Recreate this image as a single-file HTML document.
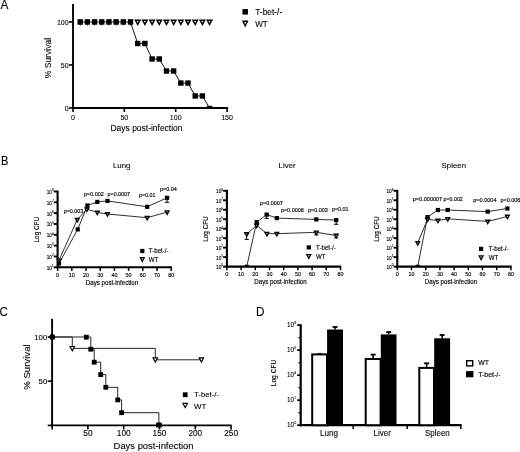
<!DOCTYPE html>
<html><head><meta charset="utf-8"><title>Figure</title>
<style>
html,body{margin:0;padding:0;background:#fff;}
body{width:520px;height:452px;overflow:hidden;}
svg{display:block;font-family:"Liberation Sans", sans-serif;}
</style></head>
<body>
<svg width="520" height="452" viewBox="0 0 520 452">
<rect width="520" height="452" fill="#fff"/>
<g filter="url(#soft)">
<text x="0.50" y="9.00" font-size="12.2" text-anchor="start" fill="#000" textLength="7.90" lengthAdjust="spacingAndGlyphs" stroke="#000" stroke-width="0.100" >A</text>
<text x="0.90" y="164.60" font-size="13.2" text-anchor="start" fill="#000" textLength="7.40" lengthAdjust="spacingAndGlyphs" stroke="#000" stroke-width="0.100" >B</text>
<text x="-0.60" y="316.00" font-size="12.2" text-anchor="start" fill="#000" textLength="8.30" lengthAdjust="spacingAndGlyphs" stroke="#000" stroke-width="0.100" >C</text>
<text x="255.90" y="316.00" font-size="13.2" text-anchor="start" fill="#000" textLength="8.50" lengthAdjust="spacingAndGlyphs" stroke="#000" stroke-width="0.100" >D</text>
<line x1="73.00" y1="4.00" x2="73.00" y2="108.95" stroke="#000" stroke-width="1.9" stroke-linecap="butt"/>
<line x1="72.05" y1="108.00" x2="228.20" y2="108.00" stroke="#000" stroke-width="1.9" stroke-linecap="butt"/>
<line x1="69.00" y1="108.00" x2="73.00" y2="108.00" stroke="#000" stroke-width="1.6" stroke-linecap="butt"/>
<line x1="69.00" y1="65.00" x2="73.00" y2="65.00" stroke="#000" stroke-width="1.6" stroke-linecap="butt"/>
<line x1="69.00" y1="22.00" x2="73.00" y2="22.00" stroke="#000" stroke-width="1.6" stroke-linecap="butt"/>
<line x1="73.00" y1="108.00" x2="73.00" y2="112.00" stroke="#000" stroke-width="1.6" stroke-linecap="butt"/>
<line x1="124.35" y1="108.00" x2="124.35" y2="112.00" stroke="#000" stroke-width="1.6" stroke-linecap="butt"/>
<line x1="175.70" y1="108.00" x2="175.70" y2="112.00" stroke="#000" stroke-width="1.6" stroke-linecap="butt"/>
<line x1="227.05" y1="108.00" x2="227.05" y2="112.00" stroke="#000" stroke-width="1.6" stroke-linecap="butt"/>
<text x="68.60" y="110.80" font-size="8" text-anchor="end" fill="#000" textLength="3.90" lengthAdjust="spacingAndGlyphs" stroke="#000" stroke-width="0.100" >0</text>
<text x="68.60" y="67.80" font-size="8" text-anchor="end" fill="#000" textLength="7.80" lengthAdjust="spacingAndGlyphs" stroke="#000" stroke-width="0.100" >50</text>
<text x="68.60" y="24.80" font-size="8" text-anchor="end" fill="#000" textLength="11.70" lengthAdjust="spacingAndGlyphs" stroke="#000" stroke-width="0.100" >100</text>
<text x="73.00" y="119.90" font-size="8" text-anchor="middle" fill="#000" textLength="3.90" lengthAdjust="spacingAndGlyphs" stroke="#000" stroke-width="0.100" >0</text>
<text x="124.35" y="119.90" font-size="8" text-anchor="middle" fill="#000" textLength="7.80" lengthAdjust="spacingAndGlyphs" stroke="#000" stroke-width="0.100" >50</text>
<text x="175.70" y="119.90" font-size="8" text-anchor="middle" fill="#000" textLength="11.70" lengthAdjust="spacingAndGlyphs" stroke="#000" stroke-width="0.100" >100</text>
<text x="227.05" y="119.90" font-size="8" text-anchor="middle" fill="#000" textLength="11.70" lengthAdjust="spacingAndGlyphs" stroke="#000" stroke-width="0.100" >150</text>
<text x="146.50" y="131.00" font-size="8.6" text-anchor="middle" fill="#000" textLength="72.00" lengthAdjust="spacingAndGlyphs" stroke="#000" stroke-width="0.100" >Days post-infection</text>
<text x="51.20" y="58.00" font-size="8.4" text-anchor="middle" fill="#000" textLength="40.50" lengthAdjust="spacingAndGlyphs" transform="rotate(-90 51.20 58.00)" stroke="#000" stroke-width="0.100" >% Survival</text>
<polyline points="80.19,22.00 87.38,22.00 94.57,22.00 101.76,22.00 108.94,22.00 116.13,22.00 123.32,22.00 130.51,22.00 137.70,43.50 144.89,43.50 152.08,58.98 159.27,58.98 166.46,71.02 173.65,71.02 180.83,83.06 188.02,83.06 195.21,95.96 202.40,95.96 209.59,108.00" fill="none" stroke="#1a1a1a" stroke-width="1.0" stroke-linejoin="round"/>
<polygon points="77.89,19.40 82.49,19.40 80.19,26.00" fill="#000"/>
<polygon points="80.00,20.90 80.38,20.90 80.19,21.44" fill="#fff"/>
<polygon points="85.08,19.40 89.68,19.40 87.38,26.00" fill="#000"/>
<polygon points="87.19,20.90 87.57,20.90 87.38,21.44" fill="#fff"/>
<polygon points="92.27,19.40 96.87,19.40 94.57,26.00" fill="#000"/>
<polygon points="94.38,20.90 94.76,20.90 94.57,21.44" fill="#fff"/>
<polygon points="99.46,19.40 104.06,19.40 101.76,26.00" fill="#000"/>
<polygon points="101.57,20.90 101.94,20.90 101.76,21.44" fill="#fff"/>
<polygon points="106.64,19.40 111.24,19.40 108.94,26.00" fill="#000"/>
<polygon points="108.76,20.90 109.13,20.90 108.94,21.44" fill="#fff"/>
<polygon points="113.83,19.40 118.43,19.40 116.13,26.00" fill="#000"/>
<polygon points="115.95,20.90 116.32,20.90 116.13,21.44" fill="#fff"/>
<polygon points="121.02,19.40 125.62,19.40 123.32,26.00" fill="#000"/>
<polygon points="123.13,20.90 123.51,20.90 123.32,21.44" fill="#fff"/>
<polygon points="128.21,19.40 132.81,19.40 130.51,26.00" fill="#000"/>
<polygon points="130.32,20.90 130.70,20.90 130.51,21.44" fill="#fff"/>
<polygon points="134.20,19.40 141.20,19.40 137.70,26.00" fill="#000"/>
<polygon points="136.69,20.90 138.71,20.90 137.70,22.80" fill="#fff"/>
<polygon points="141.39,19.40 148.39,19.40 144.89,26.00" fill="#000"/>
<polygon points="143.88,20.90 145.90,20.90 144.89,22.80" fill="#fff"/>
<polygon points="148.58,19.40 155.58,19.40 152.08,26.00" fill="#000"/>
<polygon points="151.07,20.90 153.09,20.90 152.08,22.80" fill="#fff"/>
<polygon points="155.77,19.40 162.77,19.40 159.27,26.00" fill="#000"/>
<polygon points="158.26,20.90 160.27,20.90 159.27,22.80" fill="#fff"/>
<polygon points="162.96,19.40 169.96,19.40 166.46,26.00" fill="#000"/>
<polygon points="165.45,20.90 167.46,20.90 166.46,22.80" fill="#fff"/>
<polygon points="170.15,19.40 177.15,19.40 173.65,26.00" fill="#000"/>
<polygon points="172.64,20.90 174.65,20.90 173.65,22.80" fill="#fff"/>
<polygon points="177.33,19.40 184.33,19.40 180.83,26.00" fill="#000"/>
<polygon points="179.83,20.90 181.84,20.90 180.83,22.80" fill="#fff"/>
<polygon points="184.52,19.40 191.52,19.40 188.02,26.00" fill="#000"/>
<polygon points="187.02,20.90 189.03,20.90 188.02,22.80" fill="#fff"/>
<polygon points="191.71,19.40 198.71,19.40 195.21,26.00" fill="#000"/>
<polygon points="194.21,20.90 196.22,20.90 195.21,22.80" fill="#fff"/>
<polygon points="198.90,19.40 205.90,19.40 202.40,26.00" fill="#000"/>
<polygon points="201.40,20.90 203.41,20.90 202.40,22.80" fill="#fff"/>
<polygon points="206.09,19.40 213.09,19.40 209.59,26.00" fill="#000"/>
<polygon points="208.58,20.90 210.60,20.90 209.59,22.80" fill="#fff"/>
<rect x="77.49" y="19.30" width="5.4" height="5.4" fill="#000"/>
<rect x="84.68" y="19.30" width="5.4" height="5.4" fill="#000"/>
<rect x="91.87" y="19.30" width="5.4" height="5.4" fill="#000"/>
<rect x="99.06" y="19.30" width="5.4" height="5.4" fill="#000"/>
<rect x="106.24" y="19.30" width="5.4" height="5.4" fill="#000"/>
<rect x="113.43" y="19.30" width="5.4" height="5.4" fill="#000"/>
<rect x="120.62" y="19.30" width="5.4" height="5.4" fill="#000"/>
<rect x="127.81" y="19.30" width="5.4" height="5.4" fill="#000"/>
<rect x="135.00" y="40.80" width="5.4" height="5.4" fill="#000"/>
<rect x="142.19" y="40.80" width="5.4" height="5.4" fill="#000"/>
<rect x="149.38" y="56.28" width="5.4" height="5.4" fill="#000"/>
<rect x="156.57" y="56.28" width="5.4" height="5.4" fill="#000"/>
<rect x="163.76" y="68.32" width="5.4" height="5.4" fill="#000"/>
<rect x="170.95" y="68.32" width="5.4" height="5.4" fill="#000"/>
<rect x="178.13" y="80.36" width="5.4" height="5.4" fill="#000"/>
<rect x="185.32" y="80.36" width="5.4" height="5.4" fill="#000"/>
<rect x="192.51" y="93.26" width="5.4" height="5.4" fill="#000"/>
<rect x="199.70" y="93.26" width="5.4" height="5.4" fill="#000"/>
<rect x="206.89" y="105.80" width="5.4" height="3" fill="#000"/>
<rect x="242.45" y="9.05" width="5.5" height="5.5" fill="#000"/>
<text x="255.20" y="14.60" font-size="8.2" text-anchor="start" fill="#000" textLength="27.00" lengthAdjust="spacingAndGlyphs" stroke="#000" stroke-width="0.100" >T-bet-/-</text>
<polygon points="241.90,20.50 248.50,20.50 245.20,27.60" fill="#000"/>
<polygon points="244.17,21.95 246.23,21.95 245.20,24.16" fill="#fff"/>
<text x="255.20" y="26.70" font-size="8.2" text-anchor="start" fill="#000" textLength="12.60" lengthAdjust="spacingAndGlyphs" stroke="#000" stroke-width="0.100" >WT</text>
<line x1="57.60" y1="190.60" x2="57.60" y2="268.35" stroke="#000" stroke-width="2.1" stroke-linecap="butt"/>
<line x1="56.55" y1="267.30" x2="172.00" y2="267.30" stroke="#000" stroke-width="2.1" stroke-linecap="butt"/>
<line x1="53.80" y1="191.50" x2="57.60" y2="191.50" stroke="#000" stroke-width="1.9" stroke-linecap="butt"/>
<text x="52.00" y="194.00" font-size="5.8" text-anchor="end" fill="#000" stroke="#000" stroke-width="0.15" textLength="5.3" lengthAdjust="spacingAndGlyphs">10</text>
<text x="52.00" y="191.30" font-size="3.0" text-anchor="start" fill="#000" stroke="#000" stroke-width="0.1">8</text>
<line x1="53.80" y1="202.33" x2="57.60" y2="202.33" stroke="#000" stroke-width="1.9" stroke-linecap="butt"/>
<text x="52.00" y="204.83" font-size="5.8" text-anchor="end" fill="#000" stroke="#000" stroke-width="0.15" textLength="5.3" lengthAdjust="spacingAndGlyphs">10</text>
<text x="52.00" y="202.13" font-size="3.0" text-anchor="start" fill="#000" stroke="#000" stroke-width="0.1">7</text>
<line x1="53.80" y1="213.16" x2="57.60" y2="213.16" stroke="#000" stroke-width="1.9" stroke-linecap="butt"/>
<text x="52.00" y="215.66" font-size="5.8" text-anchor="end" fill="#000" stroke="#000" stroke-width="0.15" textLength="5.3" lengthAdjust="spacingAndGlyphs">10</text>
<text x="52.00" y="212.96" font-size="3.0" text-anchor="start" fill="#000" stroke="#000" stroke-width="0.1">6</text>
<line x1="53.80" y1="223.99" x2="57.60" y2="223.99" stroke="#000" stroke-width="1.9" stroke-linecap="butt"/>
<text x="52.00" y="226.49" font-size="5.8" text-anchor="end" fill="#000" stroke="#000" stroke-width="0.15" textLength="5.3" lengthAdjust="spacingAndGlyphs">10</text>
<text x="52.00" y="223.79" font-size="3.0" text-anchor="start" fill="#000" stroke="#000" stroke-width="0.1">5</text>
<line x1="53.80" y1="234.81" x2="57.60" y2="234.81" stroke="#000" stroke-width="1.9" stroke-linecap="butt"/>
<text x="52.00" y="237.31" font-size="5.8" text-anchor="end" fill="#000" stroke="#000" stroke-width="0.15" textLength="5.3" lengthAdjust="spacingAndGlyphs">10</text>
<text x="52.00" y="234.61" font-size="3.0" text-anchor="start" fill="#000" stroke="#000" stroke-width="0.1">4</text>
<line x1="53.80" y1="245.64" x2="57.60" y2="245.64" stroke="#000" stroke-width="1.9" stroke-linecap="butt"/>
<text x="52.00" y="248.14" font-size="5.8" text-anchor="end" fill="#000" stroke="#000" stroke-width="0.15" textLength="5.3" lengthAdjust="spacingAndGlyphs">10</text>
<text x="52.00" y="245.44" font-size="3.0" text-anchor="start" fill="#000" stroke="#000" stroke-width="0.1">3</text>
<line x1="53.80" y1="256.47" x2="57.60" y2="256.47" stroke="#000" stroke-width="1.9" stroke-linecap="butt"/>
<text x="52.00" y="258.97" font-size="5.8" text-anchor="end" fill="#000" stroke="#000" stroke-width="0.15" textLength="5.3" lengthAdjust="spacingAndGlyphs">10</text>
<text x="52.00" y="256.27" font-size="3.0" text-anchor="start" fill="#000" stroke="#000" stroke-width="0.1">2</text>
<line x1="53.80" y1="267.30" x2="57.60" y2="267.30" stroke="#000" stroke-width="1.9" stroke-linecap="butt"/>
<text x="52.00" y="269.80" font-size="5.8" text-anchor="end" fill="#000" stroke="#000" stroke-width="0.15" textLength="5.3" lengthAdjust="spacingAndGlyphs">10</text>
<text x="52.00" y="267.10" font-size="3.0" text-anchor="start" fill="#000" stroke="#000" stroke-width="0.1">1</text>
<line x1="57.60" y1="267.30" x2="57.60" y2="270.90" stroke="#000" stroke-width="1.5" stroke-linecap="butt"/>
<text x="57.60" y="276.80" font-size="6.2" text-anchor="middle" fill="#000" textLength="3.10" lengthAdjust="spacingAndGlyphs" stroke="#000" stroke-width="0.150" >0</text>
<line x1="71.80" y1="267.30" x2="71.80" y2="270.90" stroke="#000" stroke-width="1.5" stroke-linecap="butt"/>
<text x="71.80" y="276.80" font-size="6.2" text-anchor="middle" fill="#000" textLength="6.00" lengthAdjust="spacingAndGlyphs" stroke="#000" stroke-width="0.150" >10</text>
<line x1="86.00" y1="267.30" x2="86.00" y2="270.90" stroke="#000" stroke-width="1.5" stroke-linecap="butt"/>
<text x="86.00" y="276.80" font-size="6.2" text-anchor="middle" fill="#000" textLength="6.00" lengthAdjust="spacingAndGlyphs" stroke="#000" stroke-width="0.150" >20</text>
<line x1="100.20" y1="267.30" x2="100.20" y2="270.90" stroke="#000" stroke-width="1.5" stroke-linecap="butt"/>
<text x="100.20" y="276.80" font-size="6.2" text-anchor="middle" fill="#000" textLength="6.00" lengthAdjust="spacingAndGlyphs" stroke="#000" stroke-width="0.150" >30</text>
<line x1="114.40" y1="267.30" x2="114.40" y2="270.90" stroke="#000" stroke-width="1.5" stroke-linecap="butt"/>
<text x="114.40" y="276.80" font-size="6.2" text-anchor="middle" fill="#000" textLength="6.00" lengthAdjust="spacingAndGlyphs" stroke="#000" stroke-width="0.150" >40</text>
<line x1="128.60" y1="267.30" x2="128.60" y2="270.90" stroke="#000" stroke-width="1.5" stroke-linecap="butt"/>
<text x="128.60" y="276.80" font-size="6.2" text-anchor="middle" fill="#000" textLength="6.00" lengthAdjust="spacingAndGlyphs" stroke="#000" stroke-width="0.150" >50</text>
<line x1="142.80" y1="267.30" x2="142.80" y2="270.90" stroke="#000" stroke-width="1.5" stroke-linecap="butt"/>
<text x="142.80" y="276.80" font-size="6.2" text-anchor="middle" fill="#000" textLength="6.00" lengthAdjust="spacingAndGlyphs" stroke="#000" stroke-width="0.150" >60</text>
<line x1="157.00" y1="267.30" x2="157.00" y2="270.90" stroke="#000" stroke-width="1.5" stroke-linecap="butt"/>
<text x="157.00" y="276.80" font-size="6.2" text-anchor="middle" fill="#000" textLength="6.00" lengthAdjust="spacingAndGlyphs" stroke="#000" stroke-width="0.150" >70</text>
<line x1="171.20" y1="267.30" x2="171.20" y2="270.90" stroke="#000" stroke-width="1.5" stroke-linecap="butt"/>
<text x="171.20" y="276.80" font-size="6.2" text-anchor="middle" fill="#000" textLength="6.00" lengthAdjust="spacingAndGlyphs" stroke="#000" stroke-width="0.150" >80</text>
<text x="112.00" y="284.60" font-size="6.4" text-anchor="middle" fill="#000" textLength="52.40" lengthAdjust="spacingAndGlyphs" stroke="#000" stroke-width="0.150" >Days post-infection</text>
<text x="39.40" y="229.70" font-size="6.8" text-anchor="middle" fill="#000" textLength="25.40" lengthAdjust="spacingAndGlyphs" transform="rotate(-90 39.40 229.70)" stroke="#000" stroke-width="0.150" >Log CFU</text>
<text x="112.90" y="167.90" font-size="7.9" text-anchor="start" fill="#000" stroke="#000" stroke-width="0.100" >Lung</text>
<polyline points="59.00,263.50 77.70,229.40 87.40,205.50 97.30,201.90 107.50,200.90 147.20,206.80 167.10,197.80" fill="none" stroke="#1a1a1a" stroke-width="0.9" stroke-linejoin="round"/>
<polyline points="59.00,260.30 77.20,219.70 86.90,209.20 97.30,212.40 107.50,214.00 147.20,217.70 167.10,212.10" fill="none" stroke="#1a1a1a" stroke-width="0.9" stroke-linejoin="round"/>
<line x1="167.00" y1="197.80" x2="167.00" y2="202.30" stroke="#000" stroke-width="1.0" stroke-linecap="butt"/>
<line x1="164.90" y1="197.80" x2="169.10" y2="197.80" stroke="#000" stroke-width="1.0" stroke-linecap="butt"/>
<line x1="164.90" y1="202.30" x2="169.10" y2="202.30" stroke="#000" stroke-width="1.0" stroke-linecap="butt"/>
<polygon points="56.00,258.40 62.00,258.40 59.00,263.90" fill="#000"/>
<polygon points="58.36,259.80 59.64,259.80 59.00,260.98" fill="#fff"/>
<polygon points="74.20,217.80 80.20,217.80 77.20,223.30" fill="#000"/>
<polygon points="76.56,219.20 77.84,219.20 77.20,220.38" fill="#fff"/>
<polygon points="83.90,207.30 89.90,207.30 86.90,212.80" fill="#000"/>
<polygon points="86.26,208.70 87.54,208.70 86.90,209.88" fill="#fff"/>
<polygon points="94.30,210.50 100.30,210.50 97.30,216.00" fill="#000"/>
<polygon points="96.66,211.90 97.94,211.90 97.30,213.08" fill="#fff"/>
<polygon points="104.50,212.10 110.50,212.10 107.50,217.60" fill="#000"/>
<polygon points="106.86,213.50 108.14,213.50 107.50,214.68" fill="#fff"/>
<polygon points="144.20,215.80 150.20,215.80 147.20,221.30" fill="#000"/>
<polygon points="146.56,217.20 147.84,217.20 147.20,218.38" fill="#fff"/>
<polygon points="164.10,210.20 170.10,210.20 167.10,215.70" fill="#000"/>
<polygon points="166.46,211.60 167.74,211.60 167.10,212.78" fill="#fff"/>
<rect x="56.90" y="261.40" width="4.2" height="4.2" fill="#000"/>
<rect x="75.60" y="227.30" width="4.2" height="4.2" fill="#000"/>
<rect x="85.30" y="203.40" width="4.2" height="4.2" fill="#000"/>
<rect x="95.20" y="199.80" width="4.2" height="4.2" fill="#000"/>
<rect x="105.40" y="198.80" width="4.2" height="4.2" fill="#000"/>
<rect x="145.10" y="204.70" width="4.2" height="4.2" fill="#000"/>
<rect x="165.00" y="195.70" width="4.2" height="4.2" fill="#000"/>
<text x="63.70" y="213.00" font-size="5.7" text-anchor="start" fill="#000" textLength="19.60" lengthAdjust="spacingAndGlyphs" stroke="#000" stroke-width="0.150" >p=0.003</text>
<text x="83.70" y="195.80" font-size="5.7" text-anchor="start" fill="#000" textLength="20.20" lengthAdjust="spacingAndGlyphs" stroke="#000" stroke-width="0.150" >p=0.002</text>
<text x="107.50" y="195.80" font-size="5.7" text-anchor="start" fill="#000" textLength="22.60" lengthAdjust="spacingAndGlyphs" stroke="#000" stroke-width="0.150" >p=0.0007</text>
<text x="139.10" y="197.20" font-size="5.7" text-anchor="start" fill="#000" textLength="16.40" lengthAdjust="spacingAndGlyphs" stroke="#000" stroke-width="0.150" >p=0.01</text>
<text x="160.00" y="191.00" font-size="5.7" text-anchor="start" fill="#000" textLength="16.70" lengthAdjust="spacingAndGlyphs" stroke="#000" stroke-width="0.150" >p=0.04</text>
<rect x="140.20" y="248.90" width="4.2" height="4.2" fill="#000"/>
<text x="148.80" y="253.30" font-size="6.3" text-anchor="start" fill="#000" textLength="19.80" lengthAdjust="spacingAndGlyphs" stroke="#000" stroke-width="0.150" >T-bet-/-</text>
<polygon points="139.30,257.00 145.30,257.00 142.30,262.80" fill="#000"/>
<polygon points="141.44,258.30 143.16,258.30 142.30,259.97" fill="#fff"/>
<text x="148.80" y="261.90" font-size="6.3" text-anchor="start" fill="#000" textLength="9.50" lengthAdjust="spacingAndGlyphs" stroke="#000" stroke-width="0.150" >WT</text>
<line x1="226.90" y1="189.90" x2="226.90" y2="267.65" stroke="#000" stroke-width="2.1" stroke-linecap="butt"/>
<line x1="225.85" y1="266.60" x2="341.30" y2="266.60" stroke="#000" stroke-width="2.1" stroke-linecap="butt"/>
<line x1="223.10" y1="190.80" x2="226.90" y2="190.80" stroke="#000" stroke-width="1.9" stroke-linecap="butt"/>
<text x="221.30" y="193.30" font-size="5.8" text-anchor="end" fill="#000" stroke="#000" stroke-width="0.15" textLength="5.3" lengthAdjust="spacingAndGlyphs">10</text>
<text x="221.30" y="190.60" font-size="3.0" text-anchor="start" fill="#000" stroke="#000" stroke-width="0.1">8</text>
<line x1="223.10" y1="200.28" x2="226.90" y2="200.28" stroke="#000" stroke-width="1.9" stroke-linecap="butt"/>
<text x="221.30" y="202.78" font-size="5.8" text-anchor="end" fill="#000" stroke="#000" stroke-width="0.15" textLength="5.3" lengthAdjust="spacingAndGlyphs">10</text>
<text x="221.30" y="200.08" font-size="3.0" text-anchor="start" fill="#000" stroke="#000" stroke-width="0.1">7</text>
<line x1="223.10" y1="209.75" x2="226.90" y2="209.75" stroke="#000" stroke-width="1.9" stroke-linecap="butt"/>
<text x="221.30" y="212.25" font-size="5.8" text-anchor="end" fill="#000" stroke="#000" stroke-width="0.15" textLength="5.3" lengthAdjust="spacingAndGlyphs">10</text>
<text x="221.30" y="209.55" font-size="3.0" text-anchor="start" fill="#000" stroke="#000" stroke-width="0.1">6</text>
<line x1="223.10" y1="219.23" x2="226.90" y2="219.23" stroke="#000" stroke-width="1.9" stroke-linecap="butt"/>
<text x="221.30" y="221.73" font-size="5.8" text-anchor="end" fill="#000" stroke="#000" stroke-width="0.15" textLength="5.3" lengthAdjust="spacingAndGlyphs">10</text>
<text x="221.30" y="219.03" font-size="3.0" text-anchor="start" fill="#000" stroke="#000" stroke-width="0.1">5</text>
<line x1="223.10" y1="228.70" x2="226.90" y2="228.70" stroke="#000" stroke-width="1.9" stroke-linecap="butt"/>
<text x="221.30" y="231.20" font-size="5.8" text-anchor="end" fill="#000" stroke="#000" stroke-width="0.15" textLength="5.3" lengthAdjust="spacingAndGlyphs">10</text>
<text x="221.30" y="228.50" font-size="3.0" text-anchor="start" fill="#000" stroke="#000" stroke-width="0.1">4</text>
<line x1="223.10" y1="238.18" x2="226.90" y2="238.18" stroke="#000" stroke-width="1.9" stroke-linecap="butt"/>
<text x="221.30" y="240.68" font-size="5.8" text-anchor="end" fill="#000" stroke="#000" stroke-width="0.15" textLength="5.3" lengthAdjust="spacingAndGlyphs">10</text>
<text x="221.30" y="237.98" font-size="3.0" text-anchor="start" fill="#000" stroke="#000" stroke-width="0.1">3</text>
<line x1="223.10" y1="247.65" x2="226.90" y2="247.65" stroke="#000" stroke-width="1.9" stroke-linecap="butt"/>
<text x="221.30" y="250.15" font-size="5.8" text-anchor="end" fill="#000" stroke="#000" stroke-width="0.15" textLength="5.3" lengthAdjust="spacingAndGlyphs">10</text>
<text x="221.30" y="247.45" font-size="3.0" text-anchor="start" fill="#000" stroke="#000" stroke-width="0.1">2</text>
<line x1="223.10" y1="257.12" x2="226.90" y2="257.12" stroke="#000" stroke-width="1.9" stroke-linecap="butt"/>
<text x="221.30" y="259.62" font-size="5.8" text-anchor="end" fill="#000" stroke="#000" stroke-width="0.15" textLength="5.3" lengthAdjust="spacingAndGlyphs">10</text>
<text x="221.30" y="256.93" font-size="3.0" text-anchor="start" fill="#000" stroke="#000" stroke-width="0.1">1</text>
<line x1="223.10" y1="266.60" x2="226.90" y2="266.60" stroke="#000" stroke-width="1.9" stroke-linecap="butt"/>
<text x="221.30" y="269.10" font-size="5.8" text-anchor="end" fill="#000" stroke="#000" stroke-width="0.15" textLength="5.3" lengthAdjust="spacingAndGlyphs">10</text>
<text x="221.30" y="266.40" font-size="3.0" text-anchor="start" fill="#000" stroke="#000" stroke-width="0.1">0</text>
<line x1="226.90" y1="266.60" x2="226.90" y2="270.20" stroke="#000" stroke-width="1.5" stroke-linecap="butt"/>
<text x="226.90" y="275.70" font-size="6.2" text-anchor="middle" fill="#000" textLength="3.10" lengthAdjust="spacingAndGlyphs" stroke="#000" stroke-width="0.150" >0</text>
<line x1="241.10" y1="266.60" x2="241.10" y2="270.20" stroke="#000" stroke-width="1.5" stroke-linecap="butt"/>
<text x="241.10" y="275.70" font-size="6.2" text-anchor="middle" fill="#000" textLength="6.00" lengthAdjust="spacingAndGlyphs" stroke="#000" stroke-width="0.150" >10</text>
<line x1="255.30" y1="266.60" x2="255.30" y2="270.20" stroke="#000" stroke-width="1.5" stroke-linecap="butt"/>
<text x="255.30" y="275.70" font-size="6.2" text-anchor="middle" fill="#000" textLength="6.00" lengthAdjust="spacingAndGlyphs" stroke="#000" stroke-width="0.150" >20</text>
<line x1="269.50" y1="266.60" x2="269.50" y2="270.20" stroke="#000" stroke-width="1.5" stroke-linecap="butt"/>
<text x="269.50" y="275.70" font-size="6.2" text-anchor="middle" fill="#000" textLength="6.00" lengthAdjust="spacingAndGlyphs" stroke="#000" stroke-width="0.150" >30</text>
<line x1="283.70" y1="266.60" x2="283.70" y2="270.20" stroke="#000" stroke-width="1.5" stroke-linecap="butt"/>
<text x="283.70" y="275.70" font-size="6.2" text-anchor="middle" fill="#000" textLength="6.00" lengthAdjust="spacingAndGlyphs" stroke="#000" stroke-width="0.150" >40</text>
<line x1="297.90" y1="266.60" x2="297.90" y2="270.20" stroke="#000" stroke-width="1.5" stroke-linecap="butt"/>
<text x="297.90" y="275.70" font-size="6.2" text-anchor="middle" fill="#000" textLength="6.00" lengthAdjust="spacingAndGlyphs" stroke="#000" stroke-width="0.150" >50</text>
<line x1="312.10" y1="266.60" x2="312.10" y2="270.20" stroke="#000" stroke-width="1.5" stroke-linecap="butt"/>
<text x="312.10" y="275.70" font-size="6.2" text-anchor="middle" fill="#000" textLength="6.00" lengthAdjust="spacingAndGlyphs" stroke="#000" stroke-width="0.150" >60</text>
<line x1="326.30" y1="266.60" x2="326.30" y2="270.20" stroke="#000" stroke-width="1.5" stroke-linecap="butt"/>
<text x="326.30" y="275.70" font-size="6.2" text-anchor="middle" fill="#000" textLength="6.00" lengthAdjust="spacingAndGlyphs" stroke="#000" stroke-width="0.150" >70</text>
<line x1="340.50" y1="266.60" x2="340.50" y2="270.20" stroke="#000" stroke-width="1.5" stroke-linecap="butt"/>
<text x="340.50" y="275.70" font-size="6.2" text-anchor="middle" fill="#000" textLength="6.00" lengthAdjust="spacingAndGlyphs" stroke="#000" stroke-width="0.150" >80</text>
<text x="280.50" y="283.60" font-size="6.4" text-anchor="middle" fill="#000" textLength="52.40" lengthAdjust="spacingAndGlyphs" stroke="#000" stroke-width="0.150" >Days post-infection</text>
<text x="208.00" y="229.00" font-size="6.8" text-anchor="middle" fill="#000" textLength="25.40" lengthAdjust="spacingAndGlyphs" transform="rotate(-90 208.00 229.00)" stroke="#000" stroke-width="0.150" >Log CFU</text>
<text x="278.60" y="167.90" font-size="7.9" text-anchor="start" fill="#000" stroke="#000" stroke-width="0.100" >Liver</text>
<polyline points="246.70,266.60 256.70,222.10 266.70,214.60 276.80,218.10 316.30,219.40 336.20,220.10" fill="none" stroke="#1a1a1a" stroke-width="0.9" stroke-linejoin="round"/>
<polyline points="246.70,234.00 256.70,225.40 266.90,233.60 276.80,233.70 316.30,232.30 336.20,235.50" fill="none" stroke="#1a1a1a" stroke-width="0.9" stroke-linejoin="round"/>
<line x1="266.70" y1="214.60" x2="266.70" y2="218.40" stroke="#000" stroke-width="1.0" stroke-linecap="butt"/>
<line x1="264.60" y1="214.60" x2="268.80" y2="214.60" stroke="#000" stroke-width="1.0" stroke-linecap="butt"/>
<line x1="264.60" y1="218.40" x2="268.80" y2="218.40" stroke="#000" stroke-width="1.0" stroke-linecap="butt"/>
<line x1="336.20" y1="220.10" x2="336.20" y2="224.30" stroke="#000" stroke-width="1.0" stroke-linecap="butt"/>
<line x1="334.10" y1="220.10" x2="338.30" y2="220.10" stroke="#000" stroke-width="1.0" stroke-linecap="butt"/>
<line x1="334.10" y1="224.30" x2="338.30" y2="224.30" stroke="#000" stroke-width="1.0" stroke-linecap="butt"/>
<line x1="246.70" y1="234.00" x2="246.70" y2="239.40" stroke="#000" stroke-width="1.0" stroke-linecap="butt"/>
<line x1="244.60" y1="234.00" x2="248.80" y2="234.00" stroke="#000" stroke-width="1.0" stroke-linecap="butt"/>
<line x1="244.60" y1="239.40" x2="248.80" y2="239.40" stroke="#000" stroke-width="1.0" stroke-linecap="butt"/>
<line x1="316.30" y1="232.30" x2="316.30" y2="234.90" stroke="#000" stroke-width="1.0" stroke-linecap="butt"/>
<line x1="314.20" y1="232.30" x2="318.40" y2="232.30" stroke="#000" stroke-width="1.0" stroke-linecap="butt"/>
<line x1="314.20" y1="234.90" x2="318.40" y2="234.90" stroke="#000" stroke-width="1.0" stroke-linecap="butt"/>
<line x1="336.20" y1="235.50" x2="336.20" y2="237.90" stroke="#000" stroke-width="1.0" stroke-linecap="butt"/>
<line x1="334.10" y1="235.50" x2="338.30" y2="235.50" stroke="#000" stroke-width="1.0" stroke-linecap="butt"/>
<line x1="334.10" y1="237.90" x2="338.30" y2="237.90" stroke="#000" stroke-width="1.0" stroke-linecap="butt"/>
<polygon points="243.70,232.10 249.70,232.10 246.70,237.60" fill="#000"/>
<polygon points="246.06,233.50 247.34,233.50 246.70,234.68" fill="#fff"/>
<polygon points="253.70,223.50 259.70,223.50 256.70,229.00" fill="#000"/>
<polygon points="256.06,224.90 257.34,224.90 256.70,226.08" fill="#fff"/>
<polygon points="263.90,231.70 269.90,231.70 266.90,237.20" fill="#000"/>
<polygon points="266.26,233.10 267.54,233.10 266.90,234.28" fill="#fff"/>
<polygon points="273.80,231.80 279.80,231.80 276.80,237.30" fill="#000"/>
<polygon points="276.16,233.20 277.44,233.20 276.80,234.38" fill="#fff"/>
<polygon points="313.30,230.40 319.30,230.40 316.30,235.90" fill="#000"/>
<polygon points="315.66,231.80 316.94,231.80 316.30,232.98" fill="#fff"/>
<polygon points="333.20,233.60 339.20,233.60 336.20,239.10" fill="#000"/>
<polygon points="335.56,235.00 336.84,235.00 336.20,236.18" fill="#fff"/>
<rect x="244.70" y="264.70" width="4.0" height="1.5" fill="#000"/>
<rect x="254.60" y="220.00" width="4.2" height="4.2" fill="#000"/>
<rect x="264.60" y="212.50" width="4.2" height="4.2" fill="#000"/>
<rect x="274.70" y="216.00" width="4.2" height="4.2" fill="#000"/>
<rect x="314.20" y="217.30" width="4.2" height="4.2" fill="#000"/>
<rect x="334.10" y="218.00" width="4.2" height="4.2" fill="#000"/>
<text x="260.10" y="204.80" font-size="5.7" text-anchor="start" fill="#000" textLength="22.60" lengthAdjust="spacingAndGlyphs" stroke="#000" stroke-width="0.150" >p=0.0007</text>
<text x="280.90" y="211.70" font-size="5.7" text-anchor="start" fill="#000" textLength="22.90" lengthAdjust="spacingAndGlyphs" stroke="#000" stroke-width="0.150" >p=0.0008</text>
<text x="308.00" y="211.70" font-size="5.7" text-anchor="start" fill="#000" textLength="19.80" lengthAdjust="spacingAndGlyphs" stroke="#000" stroke-width="0.150" >p=0.003</text>
<text x="331.90" y="211.00" font-size="5.7" text-anchor="start" fill="#000" textLength="16.60" lengthAdjust="spacingAndGlyphs" stroke="#000" stroke-width="0.150" >p=0.01</text>
<rect x="306.70" y="245.30" width="4.2" height="4.2" fill="#000"/>
<text x="316.00" y="249.70" font-size="6.3" text-anchor="start" fill="#000" textLength="19.80" lengthAdjust="spacingAndGlyphs" stroke="#000" stroke-width="0.150" >T-bet-/-</text>
<polygon points="305.80,254.00 311.80,254.00 308.80,259.80" fill="#000"/>
<polygon points="307.94,255.30 309.66,255.30 308.80,256.97" fill="#fff"/>
<text x="316.00" y="258.90" font-size="6.3" text-anchor="start" fill="#000" textLength="9.50" lengthAdjust="spacingAndGlyphs" stroke="#000" stroke-width="0.150" >WT</text>
<line x1="397.30" y1="189.90" x2="397.30" y2="267.65" stroke="#000" stroke-width="2.1" stroke-linecap="butt"/>
<line x1="396.25" y1="266.60" x2="511.70" y2="266.60" stroke="#000" stroke-width="2.1" stroke-linecap="butt"/>
<line x1="393.50" y1="190.80" x2="397.30" y2="190.80" stroke="#000" stroke-width="1.9" stroke-linecap="butt"/>
<text x="391.70" y="193.30" font-size="5.8" text-anchor="end" fill="#000" stroke="#000" stroke-width="0.15" textLength="5.3" lengthAdjust="spacingAndGlyphs">10</text>
<text x="391.70" y="190.60" font-size="3.0" text-anchor="start" fill="#000" stroke="#000" stroke-width="0.1">8</text>
<line x1="393.50" y1="200.28" x2="397.30" y2="200.28" stroke="#000" stroke-width="1.9" stroke-linecap="butt"/>
<text x="391.70" y="202.78" font-size="5.8" text-anchor="end" fill="#000" stroke="#000" stroke-width="0.15" textLength="5.3" lengthAdjust="spacingAndGlyphs">10</text>
<text x="391.70" y="200.08" font-size="3.0" text-anchor="start" fill="#000" stroke="#000" stroke-width="0.1">7</text>
<line x1="393.50" y1="209.75" x2="397.30" y2="209.75" stroke="#000" stroke-width="1.9" stroke-linecap="butt"/>
<text x="391.70" y="212.25" font-size="5.8" text-anchor="end" fill="#000" stroke="#000" stroke-width="0.15" textLength="5.3" lengthAdjust="spacingAndGlyphs">10</text>
<text x="391.70" y="209.55" font-size="3.0" text-anchor="start" fill="#000" stroke="#000" stroke-width="0.1">6</text>
<line x1="393.50" y1="219.23" x2="397.30" y2="219.23" stroke="#000" stroke-width="1.9" stroke-linecap="butt"/>
<text x="391.70" y="221.73" font-size="5.8" text-anchor="end" fill="#000" stroke="#000" stroke-width="0.15" textLength="5.3" lengthAdjust="spacingAndGlyphs">10</text>
<text x="391.70" y="219.03" font-size="3.0" text-anchor="start" fill="#000" stroke="#000" stroke-width="0.1">5</text>
<line x1="393.50" y1="228.70" x2="397.30" y2="228.70" stroke="#000" stroke-width="1.9" stroke-linecap="butt"/>
<text x="391.70" y="231.20" font-size="5.8" text-anchor="end" fill="#000" stroke="#000" stroke-width="0.15" textLength="5.3" lengthAdjust="spacingAndGlyphs">10</text>
<text x="391.70" y="228.50" font-size="3.0" text-anchor="start" fill="#000" stroke="#000" stroke-width="0.1">4</text>
<line x1="393.50" y1="238.18" x2="397.30" y2="238.18" stroke="#000" stroke-width="1.9" stroke-linecap="butt"/>
<text x="391.70" y="240.68" font-size="5.8" text-anchor="end" fill="#000" stroke="#000" stroke-width="0.15" textLength="5.3" lengthAdjust="spacingAndGlyphs">10</text>
<text x="391.70" y="237.98" font-size="3.0" text-anchor="start" fill="#000" stroke="#000" stroke-width="0.1">3</text>
<line x1="393.50" y1="247.65" x2="397.30" y2="247.65" stroke="#000" stroke-width="1.9" stroke-linecap="butt"/>
<text x="391.70" y="250.15" font-size="5.8" text-anchor="end" fill="#000" stroke="#000" stroke-width="0.15" textLength="5.3" lengthAdjust="spacingAndGlyphs">10</text>
<text x="391.70" y="247.45" font-size="3.0" text-anchor="start" fill="#000" stroke="#000" stroke-width="0.1">2</text>
<line x1="393.50" y1="257.12" x2="397.30" y2="257.12" stroke="#000" stroke-width="1.9" stroke-linecap="butt"/>
<text x="391.70" y="259.62" font-size="5.8" text-anchor="end" fill="#000" stroke="#000" stroke-width="0.15" textLength="5.3" lengthAdjust="spacingAndGlyphs">10</text>
<text x="391.70" y="256.93" font-size="3.0" text-anchor="start" fill="#000" stroke="#000" stroke-width="0.1">1</text>
<line x1="393.50" y1="266.60" x2="397.30" y2="266.60" stroke="#000" stroke-width="1.9" stroke-linecap="butt"/>
<text x="391.70" y="269.10" font-size="5.8" text-anchor="end" fill="#000" stroke="#000" stroke-width="0.15" textLength="5.3" lengthAdjust="spacingAndGlyphs">10</text>
<text x="391.70" y="266.40" font-size="3.0" text-anchor="start" fill="#000" stroke="#000" stroke-width="0.1">0</text>
<line x1="397.30" y1="266.60" x2="397.30" y2="270.20" stroke="#000" stroke-width="1.5" stroke-linecap="butt"/>
<text x="397.30" y="275.70" font-size="6.2" text-anchor="middle" fill="#000" textLength="3.10" lengthAdjust="spacingAndGlyphs" stroke="#000" stroke-width="0.150" >0</text>
<line x1="411.50" y1="266.60" x2="411.50" y2="270.20" stroke="#000" stroke-width="1.5" stroke-linecap="butt"/>
<text x="411.50" y="275.70" font-size="6.2" text-anchor="middle" fill="#000" textLength="6.00" lengthAdjust="spacingAndGlyphs" stroke="#000" stroke-width="0.150" >10</text>
<line x1="425.70" y1="266.60" x2="425.70" y2="270.20" stroke="#000" stroke-width="1.5" stroke-linecap="butt"/>
<text x="425.70" y="275.70" font-size="6.2" text-anchor="middle" fill="#000" textLength="6.00" lengthAdjust="spacingAndGlyphs" stroke="#000" stroke-width="0.150" >20</text>
<line x1="439.90" y1="266.60" x2="439.90" y2="270.20" stroke="#000" stroke-width="1.5" stroke-linecap="butt"/>
<text x="439.90" y="275.70" font-size="6.2" text-anchor="middle" fill="#000" textLength="6.00" lengthAdjust="spacingAndGlyphs" stroke="#000" stroke-width="0.150" >30</text>
<line x1="454.10" y1="266.60" x2="454.10" y2="270.20" stroke="#000" stroke-width="1.5" stroke-linecap="butt"/>
<text x="454.10" y="275.70" font-size="6.2" text-anchor="middle" fill="#000" textLength="6.00" lengthAdjust="spacingAndGlyphs" stroke="#000" stroke-width="0.150" >40</text>
<line x1="468.30" y1="266.60" x2="468.30" y2="270.20" stroke="#000" stroke-width="1.5" stroke-linecap="butt"/>
<text x="468.30" y="275.70" font-size="6.2" text-anchor="middle" fill="#000" textLength="6.00" lengthAdjust="spacingAndGlyphs" stroke="#000" stroke-width="0.150" >50</text>
<line x1="482.50" y1="266.60" x2="482.50" y2="270.20" stroke="#000" stroke-width="1.5" stroke-linecap="butt"/>
<text x="482.50" y="275.70" font-size="6.2" text-anchor="middle" fill="#000" textLength="6.00" lengthAdjust="spacingAndGlyphs" stroke="#000" stroke-width="0.150" >60</text>
<line x1="496.70" y1="266.60" x2="496.70" y2="270.20" stroke="#000" stroke-width="1.5" stroke-linecap="butt"/>
<text x="496.70" y="275.70" font-size="6.2" text-anchor="middle" fill="#000" textLength="6.00" lengthAdjust="spacingAndGlyphs" stroke="#000" stroke-width="0.150" >70</text>
<line x1="510.90" y1="266.60" x2="510.90" y2="270.20" stroke="#000" stroke-width="1.5" stroke-linecap="butt"/>
<text x="510.90" y="275.70" font-size="6.2" text-anchor="middle" fill="#000" textLength="6.00" lengthAdjust="spacingAndGlyphs" stroke="#000" stroke-width="0.150" >80</text>
<text x="451.00" y="283.60" font-size="6.4" text-anchor="middle" fill="#000" textLength="52.40" lengthAdjust="spacingAndGlyphs" stroke="#000" stroke-width="0.150" >Days post-infection</text>
<text x="378.70" y="229.00" font-size="6.8" text-anchor="middle" fill="#000" textLength="25.40" lengthAdjust="spacingAndGlyphs" transform="rotate(-90 378.70 229.00)" stroke="#000" stroke-width="0.150" >Log CFU</text>
<text x="441.50" y="167.90" font-size="7.9" text-anchor="start" fill="#000" stroke="#000" stroke-width="0.100" >Spleen</text>
<polyline points="417.70,266.60 427.50,217.10 437.90,210.00 447.70,210.00 487.70,211.60 507.40,208.50" fill="none" stroke="#1a1a1a" stroke-width="0.9" stroke-linejoin="round"/>
<polyline points="417.70,243.00 427.50,219.40 437.90,220.50 447.70,218.80 487.70,221.40 507.40,216.50" fill="none" stroke="#1a1a1a" stroke-width="0.9" stroke-linejoin="round"/>
<polygon points="414.70,241.10 420.70,241.10 417.70,246.60" fill="#000"/>
<polygon points="417.06,242.50 418.34,242.50 417.70,243.68" fill="#fff"/>
<polygon points="424.50,217.50 430.50,217.50 427.50,223.00" fill="#000"/>
<polygon points="426.86,218.90 428.14,218.90 427.50,220.08" fill="#fff"/>
<polygon points="434.90,218.60 440.90,218.60 437.90,224.10" fill="#000"/>
<polygon points="437.26,220.00 438.54,220.00 437.90,221.18" fill="#fff"/>
<polygon points="444.70,216.90 450.70,216.90 447.70,222.40" fill="#000"/>
<polygon points="447.06,218.30 448.34,218.30 447.70,219.48" fill="#fff"/>
<polygon points="484.70,219.50 490.70,219.50 487.70,225.00" fill="#000"/>
<polygon points="487.06,220.90 488.34,220.90 487.70,222.08" fill="#fff"/>
<polygon points="504.40,214.60 510.40,214.60 507.40,220.10" fill="#000"/>
<polygon points="506.76,216.00 508.04,216.00 507.40,217.18" fill="#fff"/>
<rect x="415.70" y="264.70" width="4.0" height="1.5" fill="#000"/>
<rect x="425.40" y="215.00" width="4.2" height="4.2" fill="#000"/>
<rect x="435.80" y="207.90" width="4.2" height="4.2" fill="#000"/>
<rect x="445.60" y="207.90" width="4.2" height="4.2" fill="#000"/>
<rect x="485.60" y="209.50" width="4.2" height="4.2" fill="#000"/>
<rect x="505.30" y="206.40" width="4.2" height="4.2" fill="#000"/>
<text x="412.80" y="201.30" font-size="5.7" text-anchor="start" fill="#000" textLength="29.40" lengthAdjust="spacingAndGlyphs" stroke="#000" stroke-width="0.150" >p=0.000007</text>
<text x="443.60" y="200.60" font-size="5.7" text-anchor="start" fill="#000" textLength="19.20" lengthAdjust="spacingAndGlyphs" stroke="#000" stroke-width="0.150" >p=0.002</text>
<text x="473.30" y="201.80" font-size="5.7" text-anchor="start" fill="#000" textLength="23.20" lengthAdjust="spacingAndGlyphs" stroke="#000" stroke-width="0.150" >p=0.0004</text>
<text x="500.60" y="201.80" font-size="5.7" text-anchor="start" fill="#000" textLength="19.80" lengthAdjust="spacingAndGlyphs" stroke="#000" stroke-width="0.150" >p=0.006</text>
<rect x="479.00" y="246.80" width="4.2" height="4.2" fill="#000"/>
<text x="488.80" y="251.20" font-size="6.3" text-anchor="start" fill="#000" textLength="19.80" lengthAdjust="spacingAndGlyphs" stroke="#000" stroke-width="0.150" >T-bet-/-</text>
<polygon points="478.10,255.30 484.10,255.30 481.10,261.10" fill="#000"/>
<polygon points="480.24,256.60 481.96,256.60 481.10,258.27" fill="#fff"/>
<text x="488.80" y="260.20" font-size="6.3" text-anchor="start" fill="#000" textLength="9.50" lengthAdjust="spacingAndGlyphs" stroke="#000" stroke-width="0.150" >WT</text>
<line x1="52.10" y1="318.80" x2="52.10" y2="426.35" stroke="#000" stroke-width="1.9" stroke-linecap="butt"/>
<line x1="51.15" y1="425.40" x2="231.60" y2="425.40" stroke="#000" stroke-width="1.9" stroke-linecap="butt"/>
<line x1="47.70" y1="425.40" x2="52.10" y2="425.40" stroke="#000" stroke-width="1.6" stroke-linecap="butt"/>
<line x1="47.70" y1="381.20" x2="52.10" y2="381.20" stroke="#000" stroke-width="1.6" stroke-linecap="butt"/>
<line x1="47.70" y1="337.00" x2="52.10" y2="337.00" stroke="#000" stroke-width="1.6" stroke-linecap="butt"/>
<line x1="52.10" y1="425.40" x2="52.10" y2="429.40" stroke="#000" stroke-width="1.6" stroke-linecap="butt"/>
<line x1="87.90" y1="425.40" x2="87.90" y2="429.40" stroke="#000" stroke-width="1.6" stroke-linecap="butt"/>
<line x1="123.70" y1="425.40" x2="123.70" y2="429.40" stroke="#000" stroke-width="1.6" stroke-linecap="butt"/>
<line x1="159.50" y1="425.40" x2="159.50" y2="429.40" stroke="#000" stroke-width="1.6" stroke-linecap="butt"/>
<line x1="195.30" y1="425.40" x2="195.30" y2="429.40" stroke="#000" stroke-width="1.6" stroke-linecap="butt"/>
<line x1="231.10" y1="425.40" x2="231.10" y2="429.40" stroke="#000" stroke-width="1.6" stroke-linecap="butt"/>
<text x="47.30" y="339.80" font-size="7.8" text-anchor="end" fill="#000" stroke="#000" stroke-width="0.100" >100</text>
<text x="47.30" y="384.00" font-size="7.8" text-anchor="end" fill="#000" stroke="#000" stroke-width="0.100" >50</text>
<text x="87.90" y="436.20" font-size="8.3" text-anchor="middle" fill="#000" stroke="#000" stroke-width="0.100" >50</text>
<text x="123.70" y="436.20" font-size="8.3" text-anchor="middle" fill="#000" stroke="#000" stroke-width="0.100" >100</text>
<text x="159.50" y="436.20" font-size="8.3" text-anchor="middle" fill="#000" stroke="#000" stroke-width="0.100" >150</text>
<text x="195.30" y="436.20" font-size="8.3" text-anchor="middle" fill="#000" stroke="#000" stroke-width="0.100" >200</text>
<text x="231.10" y="436.20" font-size="8.3" text-anchor="middle" fill="#000" stroke="#000" stroke-width="0.100" >250</text>
<text x="153.60" y="449.00" font-size="9.4" text-anchor="middle" fill="#000" textLength="80.00" lengthAdjust="spacingAndGlyphs" stroke="#000" stroke-width="0.100" >Days post-infection</text>
<text x="29.70" y="367.10" font-size="9.2" text-anchor="middle" fill="#000" textLength="45.50" lengthAdjust="spacingAndGlyphs" transform="rotate(-90 29.70 367.10)" stroke="#000" stroke-width="0.100" >% Survival</text>
<polyline points="52.10,337.00 72.30,337.00 72.30,348.40 155.30,348.40 155.30,359.80 201.40,359.80" fill="none" stroke="#1a1a1a" stroke-width="0.95" stroke-linejoin="round"/>
<polyline points="52.10,337.00 90.80,337.00 90.80,349.20 94.20,349.20 94.20,362.20 100.70,362.20 100.70,374.60 105.80,374.60 105.80,387.30 117.70,387.30 117.70,399.90 121.60,399.90 121.60,412.70 158.90,412.70 158.90,425.00" fill="none" stroke="#1a1a1a" stroke-width="0.95" stroke-linejoin="round"/>
<polygon points="69.10,345.90 75.50,345.90 72.30,351.90" fill="#000"/>
<polygon points="71.02,347.05 73.58,347.05 72.30,349.46" fill="#fff"/>
<polygon points="152.10,357.30 158.50,357.30 155.30,363.30" fill="#000"/>
<polygon points="154.02,358.45 156.58,358.45 155.30,360.86" fill="#fff"/>
<polygon points="198.20,357.30 204.60,357.30 201.40,363.30" fill="#000"/>
<polygon points="200.12,358.45 202.68,358.45 201.40,360.86" fill="#fff"/>
<rect x="83.90" y="334.80" width="4.8" height="4.8" fill="#000"/>
<rect x="88.40" y="346.80" width="4.8" height="4.8" fill="#000"/>
<rect x="91.80" y="359.80" width="4.8" height="4.8" fill="#000"/>
<rect x="98.30" y="372.20" width="4.8" height="4.8" fill="#000"/>
<rect x="103.40" y="384.90" width="4.8" height="4.8" fill="#000"/>
<rect x="115.30" y="397.50" width="4.8" height="4.8" fill="#000"/>
<rect x="119.20" y="410.30" width="4.8" height="4.8" fill="#000"/>
<rect x="156.00" y="422.4" width="5.8" height="5.2" rx="1.2" fill="#000"/>
<circle cx="52.30" cy="337.00" r="2.9" fill="#000"/>
<rect x="182.80" y="392.30" width="4.8" height="4.8" fill="#000"/>
<text x="194.00" y="397.40" font-size="7.7" text-anchor="start" fill="#000" textLength="25.00" lengthAdjust="spacingAndGlyphs" stroke="#000" stroke-width="0.100" >T-bet-/-</text>
<polygon points="182.00,402.80 188.40,402.80 185.20,408.80" fill="#000"/>
<polygon points="183.92,403.95 186.48,403.95 185.20,406.36" fill="#fff"/>
<text x="194.00" y="408.50" font-size="7.7" text-anchor="start" fill="#000" textLength="12.40" lengthAdjust="spacingAndGlyphs" stroke="#000" stroke-width="0.100" >WT</text>
<line x1="300.70" y1="324.20" x2="300.70" y2="426.30" stroke="#000" stroke-width="2.2" stroke-linecap="butt"/>
<line x1="299.60" y1="425.20" x2="461.60" y2="425.20" stroke="#000" stroke-width="2.2" stroke-linecap="butt"/>
<line x1="297.10" y1="325.10" x2="300.70" y2="325.10" stroke="#000" stroke-width="1.7" stroke-linecap="butt"/>
<line x1="298.50" y1="337.61" x2="300.70" y2="337.61" stroke="#000" stroke-width="1.3" stroke-linecap="butt"/>
<text x="294.00" y="326.90" font-size="6.3" text-anchor="end" fill="#000" stroke="#000" stroke-width="0.08">10</text>
<text x="294.20" y="324.10" font-size="3.7" text-anchor="start" fill="#000" stroke="#000" stroke-width="0.05">8</text>
<line x1="297.10" y1="350.12" x2="300.70" y2="350.12" stroke="#000" stroke-width="1.7" stroke-linecap="butt"/>
<line x1="298.50" y1="362.64" x2="300.70" y2="362.64" stroke="#000" stroke-width="1.3" stroke-linecap="butt"/>
<text x="294.00" y="351.93" font-size="6.3" text-anchor="end" fill="#000" stroke="#000" stroke-width="0.08">10</text>
<text x="294.20" y="349.12" font-size="3.7" text-anchor="start" fill="#000" stroke="#000" stroke-width="0.05">6</text>
<line x1="297.10" y1="375.15" x2="300.70" y2="375.15" stroke="#000" stroke-width="1.7" stroke-linecap="butt"/>
<line x1="298.50" y1="387.66" x2="300.70" y2="387.66" stroke="#000" stroke-width="1.3" stroke-linecap="butt"/>
<text x="294.00" y="376.95" font-size="6.3" text-anchor="end" fill="#000" stroke="#000" stroke-width="0.08">10</text>
<text x="294.20" y="374.15" font-size="3.7" text-anchor="start" fill="#000" stroke="#000" stroke-width="0.05">4</text>
<line x1="297.10" y1="400.18" x2="300.70" y2="400.18" stroke="#000" stroke-width="1.7" stroke-linecap="butt"/>
<line x1="298.50" y1="412.69" x2="300.70" y2="412.69" stroke="#000" stroke-width="1.3" stroke-linecap="butt"/>
<text x="294.00" y="401.98" font-size="6.3" text-anchor="end" fill="#000" stroke="#000" stroke-width="0.08">10</text>
<text x="294.20" y="399.18" font-size="3.7" text-anchor="start" fill="#000" stroke="#000" stroke-width="0.05">2</text>
<line x1="297.10" y1="425.20" x2="300.70" y2="425.20" stroke="#000" stroke-width="1.7" stroke-linecap="butt"/>
<text x="294.00" y="427.00" font-size="6.3" text-anchor="end" fill="#000" stroke="#000" stroke-width="0.08">10</text>
<text x="294.20" y="424.20" font-size="3.7" text-anchor="start" fill="#000" stroke="#000" stroke-width="0.05">0</text>
<line x1="353.20" y1="425.20" x2="353.20" y2="429.00" stroke="#000" stroke-width="1.5" stroke-linecap="butt"/>
<line x1="407.20" y1="425.20" x2="407.20" y2="429.00" stroke="#000" stroke-width="1.5" stroke-linecap="butt"/>
<line x1="460.80" y1="425.20" x2="460.80" y2="429.00" stroke="#000" stroke-width="1.5" stroke-linecap="butt"/>
<text x="275.60" y="373.00" font-size="6.6" text-anchor="middle" fill="#000" textLength="26.50" lengthAdjust="spacingAndGlyphs" transform="rotate(-90 275.60 373.00)" stroke="#000" stroke-width="0.150" >Log CFU</text>
<rect x="312.20" y="354.40" width="14.80" height="70.80" fill="#fff" stroke="#000" stroke-width="2.0"/>
<rect x="317.8" y="352.9" width="3.6" height="0.9" fill="#000"/>
<line x1="335.05" y1="326.60" x2="335.05" y2="329.50" stroke="#000" stroke-width="1.6" stroke-linecap="butt"/>
<line x1="332.55" y1="327.00" x2="337.55" y2="327.00" stroke="#000" stroke-width="1.8" stroke-linecap="butt"/>
<rect x="327.10" y="329.50" width="15.90" height="95.70" fill="#000"/>
<line x1="373.15" y1="354.20" x2="373.15" y2="358.00" stroke="#000" stroke-width="1.6" stroke-linecap="butt"/>
<line x1="370.65" y1="354.60" x2="375.65" y2="354.60" stroke="#000" stroke-width="1.8" stroke-linecap="butt"/>
<rect x="365.70" y="359.00" width="14.90" height="66.20" fill="#fff" stroke="#000" stroke-width="2.0"/>
<line x1="388.65" y1="331.70" x2="388.65" y2="334.40" stroke="#000" stroke-width="1.6" stroke-linecap="butt"/>
<line x1="386.15" y1="332.10" x2="391.15" y2="332.10" stroke="#000" stroke-width="1.8" stroke-linecap="butt"/>
<rect x="380.80" y="334.40" width="15.70" height="90.80" fill="#000"/>
<line x1="426.65" y1="362.90" x2="426.65" y2="366.90" stroke="#000" stroke-width="1.6" stroke-linecap="butt"/>
<line x1="424.15" y1="363.30" x2="429.15" y2="363.30" stroke="#000" stroke-width="1.8" stroke-linecap="butt"/>
<rect x="419.30" y="367.90" width="14.70" height="57.30" fill="#fff" stroke="#000" stroke-width="2.0"/>
<line x1="442.15" y1="334.60" x2="442.15" y2="338.30" stroke="#000" stroke-width="1.6" stroke-linecap="butt"/>
<line x1="439.65" y1="335.00" x2="444.65" y2="335.00" stroke="#000" stroke-width="1.8" stroke-linecap="butt"/>
<rect x="434.20" y="338.30" width="15.90" height="86.90" fill="#000"/>
<text x="329.00" y="435.80" font-size="8.2" text-anchor="middle" fill="#000" textLength="18.00" lengthAdjust="spacingAndGlyphs" stroke="#000" stroke-width="0.100" >Lung</text>
<text x="382.30" y="435.80" font-size="8.2" text-anchor="middle" fill="#000" textLength="17.50" lengthAdjust="spacingAndGlyphs" stroke="#000" stroke-width="0.100" >Liver</text>
<text x="437.40" y="435.80" font-size="8.2" text-anchor="middle" fill="#000" textLength="24.80" lengthAdjust="spacingAndGlyphs" stroke="#000" stroke-width="0.100" >Spleen</text>
<rect x="466.7" y="360.7" width="6.0" height="5.2" fill="#fff" stroke="#000" stroke-width="1.4"/>
<text x="478.20" y="365.00" font-size="6.6" text-anchor="start" fill="#000" textLength="10.70" lengthAdjust="spacingAndGlyphs" stroke="#000" stroke-width="0.150" >WT</text>
<rect x="466.0" y="371.1" width="7.4" height="6.2" fill="#000"/>
<text x="478.20" y="376.70" font-size="6.6" text-anchor="start" fill="#000" textLength="22.40" lengthAdjust="spacingAndGlyphs" stroke="#000" stroke-width="0.150" >T-bet-/-</text>
</g>
<defs><filter id="soft" x="0" y="0" width="100%" height="100%"><feGaussianBlur stdDeviation="0.5"/></filter></defs>
</svg>
</body></html>
